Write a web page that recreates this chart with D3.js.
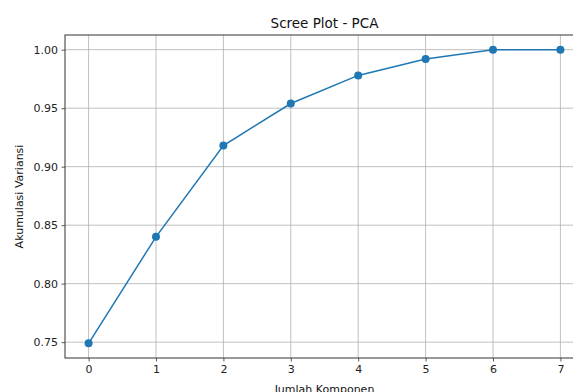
<!DOCTYPE html>
<html>
<head>
<meta charset="utf-8">
<script src="https://cdn.jsdelivr.net/npm/d3@7"></script>
<style>
  body { margin: 0; background: white; }
  svg { display: block; font-family: "DejaVu Sans", sans-serif; }
</style>
</head>
<body>
<script>
// data
const components = [0, 1, 2, 3, 4, 5, 6, 7];
const cumVariance = [0.749, 0.840, 0.918, 0.954, 0.978, 0.992, 1.0, 1.0];
const xTicks = [0, 1, 2, 3, 4, 5, 6, 7];
const yTicks = [0.75, 0.80, 0.85, 0.90, 0.95, 1.00];

const width = 573, height = 392;
const margin = { left: 65, top: 35, right: -11, bottom: 34 };

const svg = d3.select("body").append("svg")
  .attr("width", width)
  .attr("height", height);

const x = d3.scaleLinear()
  .domain([-0.35, 7.35])
  .range([margin.left, width - margin.right]);

const yMin = d3.min(cumVariance), yMax = d3.max(cumVariance);
const pad = (yMax - yMin) * 0.05;
const y = d3.scaleLinear()
  .domain([yMin - pad, yMax + pad])
  .range([height - margin.bottom, margin.top]);

// grid
const grid = svg.append("g");
grid.selectAll("line.gx")
  .data(xTicks)
  .enter().append("line")
  .attr("x1", d => x(d)).attr("x2", d => x(d))
  .attr("y1", margin.top).attr("y2", height - margin.bottom)
  .attr("stroke", "#b0b0b0").attr("stroke-width", 0.8);
grid.selectAll("line.gy")
  .data(yTicks)
  .enter().append("line")
  .attr("x1", margin.left).attr("x2", width - margin.right)
  .attr("y1", d => y(d)).attr("y2", d => y(d))
  .attr("stroke", "#b0b0b0").attr("stroke-width", 0.8);

// axes
const xAxis = d3.axisBottom(x).tickValues(xTicks).tickFormat(d3.format("d")).tickSizeOuter(0).tickSize(3.5).tickPadding(3.5);
const yAxis = d3.axisLeft(y).tickValues(yTicks).tickFormat(d3.format(".2f")).tickSizeOuter(0).tickSize(3.5).tickPadding(3.5);

const gx = svg.append("g")
  .attr("transform", `translate(0,${height - margin.bottom})`)
  .call(xAxis);
const gy = svg.append("g")
  .attr("transform", `translate(${margin.left},0)`)
  .call(yAxis);

[gx, gy].forEach(g => {
  g.select(".domain").remove();
  g.selectAll("text").attr("font-size", 11).attr("fill", "#222").attr("font-family", "DejaVu Sans");
  g.selectAll("line").attr("stroke", "#333").attr("stroke-width", 0.8);
});

// spines
svg.append("rect")
  .attr("x", margin.left).attr("y", margin.top)
  .attr("width", width - margin.right - margin.left)
  .attr("height", height - margin.bottom - margin.top)
  .attr("fill", "none").attr("stroke", "#333").attr("stroke-width", 1);

// line + markers
const line = d3.line()
  .x((d, i) => x(components[i]))
  .y(d => y(d));

svg.append("path")
  .datum(cumVariance)
  .attr("d", line)
  .attr("fill", "none")
  .attr("stroke", "#1f77b4")
  .attr("stroke-width", 1.5);

svg.selectAll("circle")
  .data(cumVariance)
  .enter().append("circle")
  .attr("cx", (d, i) => x(components[i]))
  .attr("cy", d => y(d))
  .attr("r", 4)
  .attr("fill", "#1f77b4");

// labels
svg.append("text")
  .attr("x", (margin.left + width - margin.right) / 2)
  .attr("y", 28)
  .attr("text-anchor", "middle")
  .attr("font-size", 13.5)
  .attr("fill", "#111")
  .text("Scree Plot - PCA");

svg.append("text")
  .attr("x", (margin.left + width - margin.right) / 2)
  .attr("y", 393)
  .attr("text-anchor", "middle")
  .attr("font-size", 11)
  .attr("fill", "#111")
  .text("Jumlah Komponen");

svg.append("text")
  .attr("transform", `translate(23,${(margin.top + height - margin.bottom) / 2}) rotate(-90)`)
  .attr("text-anchor", "middle")
  .attr("font-size", 11)
  .attr("fill", "#111")
  .text("Akumulasi Variansi");
</script>
</body>
</html>
